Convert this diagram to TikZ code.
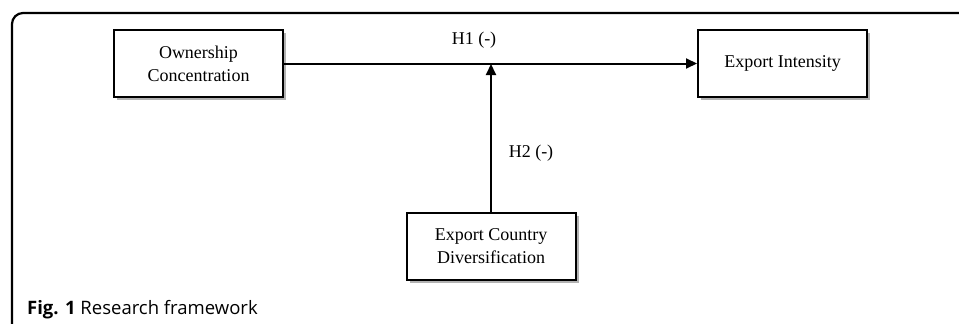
\documentclass[tikz,border=0pt]{standalone}
\usepackage{fontspec}
\setmainfont{Liberation Serif}
\newfontfamily\capfont{Open Sans}
\usetikzlibrary{arrows.meta,positioning,shadows}
\tikzset{
  box/.style={draw=black, line width=2pt, fill=white, minimum width=169pt, minimum height=67pt,
    align=center, font=\fontsize{18}{23}\selectfont, inner sep=0pt,
    drop shadow={shadow xshift=3pt, shadow yshift=-3pt, fill=black!30, opacity=1}},
  conn/.style={line width=2pt, -{Triangle[length=11pt,width=10pt]}},
  lbl/.style={font=\fontsize{18}{20}\selectfont, inner sep=0pt}
}
\begin{document}
\begin{tikzpicture}[x=1pt,y=-1pt]
\useasboundingbox (0,0) rectangle (959,324);
\draw[line width=2.2pt, rounded corners=11pt] (12,324) -- (12,13) -- (959,13);
\node[box] (own) at (198.5,63.5) {Ownership\\Concentration};
\node[box] (exi) at (782.5,63.5) {Export Intensity};
\node[box] (ecd) at (491,246.5) {Export Country\\Diversification};
\coordinate (j) at (491,64);
\draw[conn] (own.east) -- (exi.west);
\draw[conn] (ecd.north) -- (j);
\node[lbl] (h1) at (474,40) {H1 (-)};
\node[lbl] (h2) at (531,153) {H2 (-)};
\node[anchor=west, inner sep=0pt, font=\capfont\fontsize{18.5}{22}\selectfont] (cap) at (27,310) {\textbf{Fig. 1} Research framework};
\end{tikzpicture}
\end{document}
